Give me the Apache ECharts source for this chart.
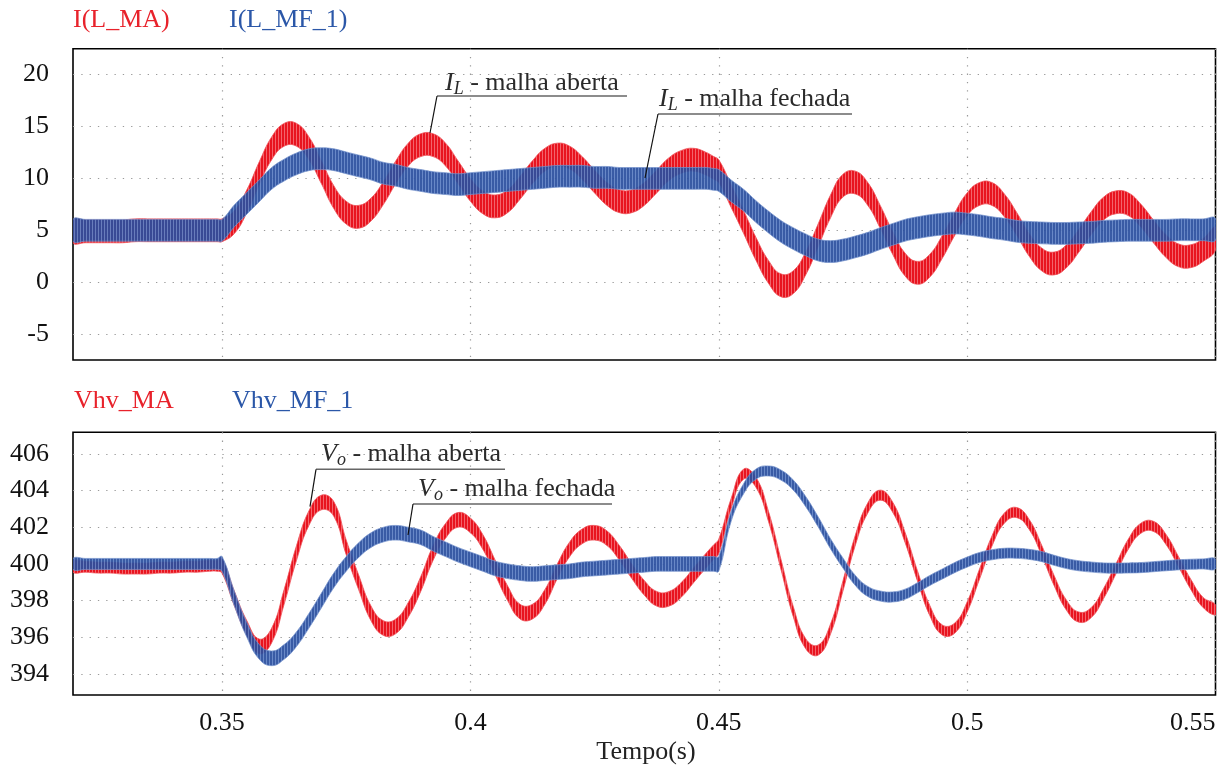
<!DOCTYPE html>
<html>
<head>
<meta charset="utf-8">
<script src="https://cdn.jsdelivr.net/npm/echarts@6/dist/echarts.min.js"></script>
<style>
html,body{margin:0;padding:0;background:#fff;}
#main{width:1228px;height:770px;}
</style>
</head>
<body>
<div id="main"></div>
<script>
// sample times (s), with an extra sample just before each step at 0.35 and 0.45
var tempo = [0.32,0.3225,0.325,0.3275,0.33,0.3325,0.335,0.3375,0.34,0.3425,0.345,0.3475,
  0.349,
  0.35,0.3525,0.355,0.3575,0.36,0.3625,0.365,0.3675,0.37,0.3725,0.375,0.3775,0.38,0.3825,0.385,0.3875,
  0.39,0.3925,0.395,0.3975,0.4,0.4025,0.405,0.4075,0.41,0.4125,0.415,0.4175,0.42,0.4225,0.425,0.4275,
  0.43,0.4325,0.435,0.4375,0.44,0.4425,0.445,0.4475,
  0.449,
  0.45,0.4525,0.455,0.4575,0.46,0.4625,0.465,0.4675,0.47,0.4725,0.475,0.4775,0.48,0.4825,0.485,0.4875,
  0.49,0.4925,0.495,0.4975,0.5,0.5025,0.505,0.5075,0.51,0.5125,0.515,0.5175,0.52,0.5225,0.525,0.5275,
  0.53,0.5325,0.535,0.5375,0.54,0.5425,0.545,0.5475,0.55];

// I(L_MA) - centre of the ripple band
var iLMA = [4.9,4.9,4.9,4.9,4.9,5.0,5.0,5.0,5.0,5.0,5.0,5.0,
  5.0,
  5.0,5.8,7.8,10.5,12.9,14.2,14.2,12.9,10.6,8.2,6.7,6.3,7.0,8.6,10.6,12.3,
  13.2,13.2,12.3,10.6,8.9,7.7,7.3,7.8,9.1,10.6,11.8,12.3,12.0,11.0,9.7,8.5,
  7.8,7.8,8.5,9.7,10.9,11.6,11.8,11.4,
  11.0,
  10.7,8.3,5.8,3.2,1.0,-0.3,0.0,1.8,4.5,7.3,9.3,9.6,8.5,6.3,3.8,1.7,
  0.9,1.6,3.4,5.6,7.5,8.5,8.5,7.4,5.6,3.6,2.2,1.8,2.5,4.0,5.7,7.1,
  7.7,7.5,6.4,4.9,3.5,2.6,2.5,3.1,4.2];

// I(L_MF_1)
var iLMF = [5.0,5.0,5.0,5.0,5.0,5.0,5.0,5.0,5.0,5.0,5.0,5.0,
  5.0,
  5.0,6.4,7.6,8.8,10.0,10.8,11.4,11.8,11.9,11.8,11.5,11.2,10.9,10.5,10.3,10.0,
  9.8,9.6,9.5,9.4,9.5,9.6,9.7,9.8,9.9,10.0,10.1,10.2,10.2,10.2,10.1,10.1,
  10.0,10.0,10.0,10.0,10.0,10.0,10.0,10.0,
  9.9,
  9.8,8.8,7.9,6.8,5.8,4.9,4.2,3.6,3.1,2.95,3.1,3.4,3.75,4.2,4.6,5.0,
  5.25,5.45,5.6,5.7,5.6,5.45,5.25,5.1,4.9,4.8,4.75,4.7,4.7,4.75,4.8,4.9,
  4.95,5.0,5.0,5.0,5.0,5.05,5.05,5.05,5.1];

// Vhv_MA
var vhvMA = [399.85,399.85,399.8,399.8,399.75,399.75,399.75,399.8,399.8,399.85,399.85,399.9,
  399.9,
  399.9,398.1,396.5,395.5,396.1,398.2,400.6,402.5,403.35,403.0,400.9,399.0,397.3,396.5,396.6,397.5,
  398.9,400.6,401.8,402.4,402.1,401.2,399.8,398.4,397.4,397.4,398.2,399.6,400.8,401.5,401.7,401.4,
  400.6,399.6,398.7,398.1,398.1,398.6,399.4,400.2,
  400.65,
  400.95,403.3,404.9,404.45,402.6,400.0,397.4,395.65,395.3,396.45,398.8,401.3,403.05,403.75,403.1,401.45,
  399.35,397.45,396.4,396.5,397.65,399.45,401.25,402.5,402.8,402.15,400.75,399.1,397.75,397.1,397.35,398.4,
  399.75,401.1,401.95,402.05,401.35,400.15,398.9,397.9,397.5];

// Vhv_MF_1
var vhvMF = [400.0,400.0,400.0,400.0,400.0,400.0,400.0,400.0,400.0,400.0,400.0,400.0,
  400.0,
  400.0,398.1,396.4,395.2,394.85,395.2,395.9,396.9,398.0,399.1,400.0,400.75,401.3,401.6,401.7,401.6,
  401.45,401.1,400.8,400.5,400.25,400.0,399.75,399.6,399.5,399.45,399.5,399.55,399.6,399.7,399.75,399.8,
  399.85,399.9,399.95,400.0,400.0,400.0,400.0,400.0,
  400.0,
  400.0,402.6,404.1,404.9,405.07,404.85,404.3,403.4,402.3,401.1,400.05,399.1,398.5,398.25,398.2,398.35,
  398.7,399.1,399.45,399.8,400.1,400.35,400.5,400.58,400.58,400.52,400.4,400.2,400.02,399.9,399.83,399.78,
  399.77,399.78,399.8,399.85,399.9,399.95,399.98,400.0,400.0];

// ripple height (peak to peak) for t<0.35, 0.35..0.45, t>0.45
var ripILMA = [2.2, 2.2, 2.2];
var ripILMF = [2.1, 2.1, 2.1];
var ripVMA = [0.6, 0.8, 0.55];
var ripVMF = [0.6, 0.8, 0.55];

var xTicks = [0.35, 0.4, 0.45, 0.5, 0.55];
var iTicks = [-5, 0, 5, 10, 15, 20];
var vTicks = [394, 396, 398, 400, 402, 404, 406];

var FONT = 'Liberation Serif';

function ripAt(r, t) {
  return t < 0.35 ? r[0] : (t <= 0.45 ? r[1] : r[2]);
}

// vertical stripes, like the switching ripple in the simulation plot
function stripes(c1, c2) {
  var cv = document.createElement('canvas');
  cv.width = 3; cv.height = 4;
  var ctx = cv.getContext('2d');
  ctx.fillStyle = c1; ctx.fillRect(0, 0, 3, 4);
  ctx.fillStyle = c2; ctx.fillRect(2, 0, 1, 4);
  return { image: cv, repeat: 'repeat' };
}
var RED_FILL = stripes('#e8141f', '#f3646b');
var BLUE_FILL = stripes('#2a4f9f', '#5d7fc3');

// ripple band: polygon between lower and upper edge, placed with api.coord
function band(vals, rip, gi, fill, edge, op) {
  var pts = [];
  for (var k = 0; k < tempo.length; k++) {
    var w = ripAt(rip, tempo[k]);
    pts.push([tempo[k], vals[k] - w / 2, vals[k] + w / 2]);
  }
  return {
    type: 'custom', xAxisIndex: gi, yAxisIndex: gi, clip: true, silent: true,
    data: pts, encode: { x: 0, y: [1, 2] },
    renderItem: function (params, api) {
      if (params.dataIndex !== 0) return null;
      var up = [], dn = [];
      for (var j = 0; j < pts.length; j++) {
        up.push(api.coord([pts[j][0], pts[j][2]]));
        dn.unshift(api.coord([pts[j][0], pts[j][1]]));
      }
      return {
        type: 'polygon',
        shape: { points: up.concat(dn), smooth: 0.45 },
        style: { fill: fill, stroke: edge, lineWidth: 0.8, opacity: op }
      };
    }
  };
}

var dotted = { color: '#9a9a9a', width: 1.2, type: [1.3, 7] };

function xAxisOf(gi, labels) {
  return {
    type: 'value', gridIndex: gi, min: 0.32, max: 0.55,
    axisLine: { show: false },
    axisTick: { show: false, customValues: xTicks },
    axisLabel: {
      show: labels, customValues: xTicks, color: '#111', fontFamily: FONT, fontSize: 26,
      margin: 15, alignMaxLabel: 'right',
      formatter: function (v) { return String(v); }
    },
    splitLine: { show: true, lineStyle: dotted }
  };
}

function yAxisOf(gi, min, max, ticks) {
  return {
    type: 'value', gridIndex: gi, min: min, max: max,
    axisLine: { show: false },
    axisTick: { show: false, customValues: ticks },
    axisLabel: { customValues: ticks, color: '#111', fontFamily: FONT, fontSize: 26, margin: 24 },
    splitLine: { show: true, lineStyle: dotted }
  };
}

function label(x, y, txt, color) {
  return { type: 'text', x: x, y: y, z: 10,
    style: { text: txt, fill: color, font: '26px "' + FONT + '"', verticalAlign: 'middle' } };
}

var rich = {
  m: { fontFamily: FONT, fontSize: 26, lineHeight: 30, fill: '#2a2a2a' },
  i: { fontFamily: FONT, fontSize: 26, lineHeight: 30, fontStyle: 'italic', fill: '#2a2a2a' },
  s: { fontFamily: FONT, fontSize: 18, lineHeight: 18, fontStyle: 'italic', verticalAlign: 'bottom', fill: '#2a2a2a' }
};

function note(x, y, sym, sub, txt, ux1, ux2, uy, lx, ly) {
  return [
    { type: 'text', x: x, y: y, z: 10,
      style: { text: '{i|' + sym + '}{s|' + sub + '}{m| - ' + txt + '}', rich: rich, verticalAlign: 'middle' } },
    { type: 'polyline', z: 10, shape: { points: [[ux2, uy], [ux1, uy]] },
      style: { stroke: '#666', lineWidth: 1.4, fill: null } },
    { type: 'polyline', z: 10, shape: { points: [[ux1, uy], [lx, ly]] },
      style: { stroke: '#111', lineWidth: 1.2, fill: null } }
  ];
}

var chart = echarts.init(document.getElementById('main'));
chart.setOption({
  animation: false,
  backgroundColor: '#fff',
  grid: [
    { left: 73, right: 12.5, top: 48.7, height: 311.3, show: true, borderColor: '#000', borderWidth: 1.6 },
    { left: 73, right: 12.5, top: 432.3, height: 262.7, show: true, borderColor: '#000', borderWidth: 1.6 }
  ],
  xAxis: [xAxisOf(0, false), xAxisOf(1, true)],
  yAxis: [yAxisOf(0, -7.5, 22.5, iTicks), yAxisOf(1, 392.85, 407.18, vTicks)],
  series: [
    band(iLMA, ripILMA, 0, RED_FILL, '#ef5058', 1),
    band(iLMF, ripILMF, 0, BLUE_FILL, '#7391cc', 0.93),
    band(vhvMA, ripVMA, 1, RED_FILL, '#ef5058', 1),
    band(vhvMF, ripVMF, 1, BLUE_FILL, '#7391cc', 0.93)
  ],
  graphic: [].concat(
    label(73, 20, 'I(L_MA)', '#e8222b'),
    label(229, 20, 'I(L_MF_1)', '#2b57a8'),
    label(74, 401, 'Vhv_MA', '#e8222b'),
    label(232, 401, 'Vhv_MF_1', '#2b57a8'),
    { type: 'text', x: 646, y: 752, z: 10,
      style: { text: 'Tempo(s)', fill: '#222', font: '26px "' + FONT + '"', align: 'center', verticalAlign: 'middle' } },
    note(445, 83, 'I', 'L', 'malha aberta', 437, 627, 96, 430, 133),
    note(659, 99, 'I', 'L', 'malha fechada', 658, 852, 114, 645, 178),
    note(321, 454, 'V', 'o', 'malha aberta', 316, 505, 469.3, 310, 506.7),
    note(418, 489, 'V', 'o', 'malha fechada', 413, 612, 504, 408, 535)
  )
});
</script>
</body>
</html>
